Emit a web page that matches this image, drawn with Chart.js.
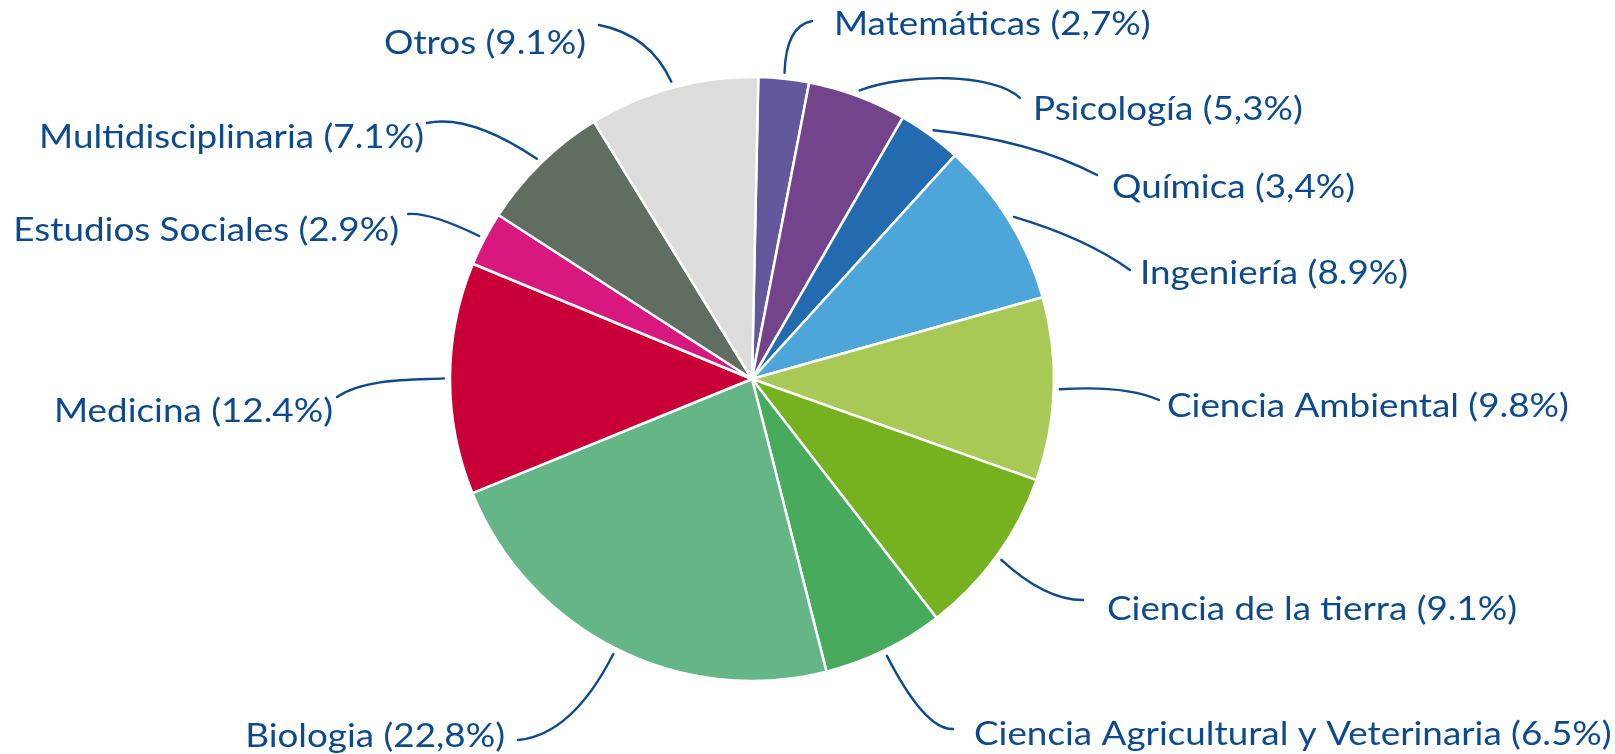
<!DOCTYPE html>
<html lang="es">
<head>
<meta charset="utf-8">
<title>Distribución por área temática</title>
<script src="https://cdn.jsdelivr.net/npm/chart.js@4.4.1/dist/chart.umd.min.js"></script>
<style>
  html, body { margin: 0; padding: 0; background: #ffffff; }
  #wrap { position: relative; width: 1615px; height: 754px; }
</style>
</head>
<body>
<div id="wrap"><canvas id="pie"></canvas></div>
<script>
// Áreas temáticas, en el sentido de las agujas del reloj desde arriba
const categories = [
  'Matemáticas', 'Psicología', 'Química', 'Ingeniería', 'Ciencia Ambiental',
  'Ciencia de la tierra', 'Ciencia Agricultural y Veterinaria', 'Biologia',
  'Medicina', 'Estudios Sociales', 'Multidisciplinaria', 'Otros'
];
// Porcentaje de cada área
const shares = [2.7, 5.3, 3.4, 8.9, 9.8, 9.1, 6.5, 22.8, 12.4, 2.9, 7.1, 9.1];
// Separador decimal usado en cada etiqueta
const decimalMarks = [',', ',', ',', '.', '.', '.', '.', ',', '.', '.', '.', '.'];

const sliceColors = [
  '#62589b', '#73448c', '#236bae', '#4da6da', '#a9c957', '#76b21f',
  '#47aa5c', '#65b687', '#c80037', '#d8187e', '#5f6e61', '#dcdcda'
];

const TEXT_BLUE = '#0d4a8d';
const TEXT_STRETCH = 1.15;   // ensancha la letra horizontalmente

// Colocación de las etiquetas respecto al centro del pastel:
// text = punto de anclaje del texto, end = final de la línea guía,
// c1/c2 = puntos de control de la curva.
const labelLayout = [
  { align: 'left',  text: [82, -354],  end: [60, -358],   c1: [34, -353],   c2: null },
  { align: 'left',  text: [281, -269], end: [268, -281],  c1: [153, -306],  c2: [243, -306] },
  { align: 'left',  text: [360, -191], end: [345, -204],  c1: [278, -239],  c2: null },
  { align: 'left',  text: [388, -105], end: [378, -109],  c1: [333, -141],  c2: null },
  { align: 'left',  text: [415, 28],   end: [407, 21],    c1: [373, 6],     c2: null },
  { align: 'left',  text: [355, 231],  end: [331, 221],   c1: [293, 221],   c2: null },
  { align: 'left',  text: [222, 356],  end: [201, 350],   c1: [173, 351],   c2: null },
  { align: 'right', text: [-247, 358], end: [-234, 361],  c1: [-180, 356],  c2: null },
  { align: 'right', text: [-419, 33],  end: [-415, 18],   c1: [-337, 1],    c2: [-387, -1] },
  { align: 'right', text: [-353, -148],end: [-344, -165], c1: [-322, -167], c2: null },
  { align: 'right', text: [-328, -241],end: [-325, -256], c1: [-282, -265], c2: null },
  { align: 'right', text: [-166, -335],end: [-153, -354], c1: [-102, -344], c2: null }
];

function labelText(i) {
  return categories[i] + ' (' + shares[i].toFixed(1).replace('.', decimalMarks[i]) + '%)';
}

// Etiquetas exteriores con líneas guía curvas
const calloutPlugin = {
  id: 'callouts',
  afterDatasetsDraw(chart) {
    const ctx = chart.ctx;
    const arcs = chart.getDatasetMeta(0).data;
    ctx.save();
    ctx.strokeStyle = TEXT_BLUE;
    ctx.fillStyle = TEXT_BLUE;
    ctx.lineWidth = 2.4;
    ctx.lineCap = 'round';
    ctx.font = '32px Lato, "Open Sans", sans-serif';
    ctx.textBaseline = 'middle';
    arcs.forEach((arc, i) => {
      const L = labelLayout[i];
      const { x: cx, y: cy, startAngle, endAngle, outerRadius } = arc.getProps(
        ['x', 'y', 'startAngle', 'endAngle', 'outerRadius'], true);
      const mid = (startAngle + endAngle) / 2;
      const r = outerRadius + 6;
      const sx = cx + Math.cos(mid) * r;
      const sy = cy + Math.sin(mid) * r;
      ctx.beginPath();
      ctx.moveTo(sx, sy);
      if (L.c2) {
        ctx.bezierCurveTo(cx + L.c1[0], cy + L.c1[1], cx + L.c2[0], cy + L.c2[1],
                          cx + L.end[0], cy + L.end[1]);
      } else {
        ctx.quadraticCurveTo(cx + L.c1[0], cy + L.c1[1], cx + L.end[0], cy + L.end[1]);
      }
      ctx.stroke();
      ctx.save();
      ctx.translate(cx + L.text[0], cy + L.text[1]);
      ctx.scale(TEXT_STRETCH, 1);
      ctx.textAlign = L.align;
      ctx.fillText(labelText(i), 0, 0);
      ctx.restore();
    });
    ctx.restore();
  }
};

new Chart(document.getElementById('pie'), {
  type: 'pie',
  data: {
    labels: categories,
    datasets: [{
      data: shares,
      backgroundColor: sliceColors,
      borderColor: '#ffffff',
      borderWidth: 2.5
    }]
  },
  options: {
    responsive: true,
    maintainAspectRatio: false,
    animation: false,
    rotation: 1.2,
    radius: 302,
    layout: { padding: { left: 0, right: 111, top: 4, bottom: 0 } },
    plugins: {
      legend: { display: false },
      tooltip: { enabled: false }
    },
    events: []
  },
  plugins: [calloutPlugin]
});
</script>
</body>
</html>
